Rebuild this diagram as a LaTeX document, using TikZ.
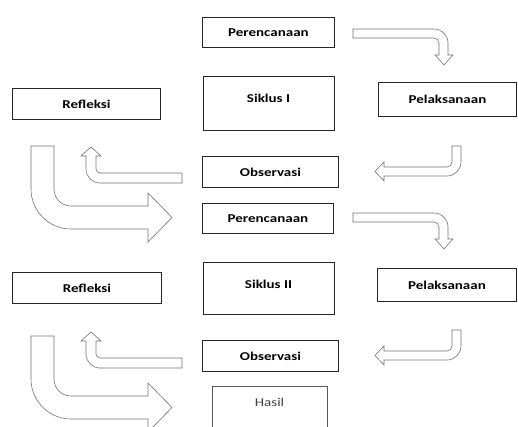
\documentclass[tikz,border=0pt]{standalone}
\usepackage{fontspec}
\setmainfont{Carlito}[FakeStretch=1.25]
\begin{document}
\begin{tikzpicture}[x=1pt,y=-1pt,
  box/.style={draw=black!85, line width=0.9pt, fill=white, anchor=north west,
    inner sep=0pt, font=\fontsize{12}{14}\selectfont\bfseries},
  lbl/.style={inner sep=0pt, font=\fontsize{12}{14}\selectfont\bfseries},
  hasillbl/.style={inner sep=0pt, text=black!75, font=\fontsize{12}{14}\selectfont},
  hasilbox/.style={draw=black!65, line width=0.8pt, fill=white, anchor=north west, inner sep=0pt},
  blockarrow/.style={draw=black!55, line width=0.6pt, fill=white, line join=miter}]
\useasboundingbox (0,0) rectangle (518,427);
\clip (0,0) rectangle (518,427);
\fill[white] (0,0) rectangle (518,427);

% ---- cycle I boxes ----
\node[box, minimum width=132, minimum height=30] (plan1) at (202,17) {Perencanaan};
\node[box, minimum width=131, minimum height=54] (siklus1) at (203,76) {};
\node[lbl] (siklus1t) at (268.5,98) {Siklus I};
\node[box, minimum width=148, minimum height=31] (refl1) at (12,88) {Refleksi};
\node[box, minimum width=138, minimum height=34] (pel1) at (378,82) {Pelaksanaan};
\node[box, minimum width=136, minimum height=31] (obs1) at (202,156) {Observasi};

% ---- cycle II boxes ----
\node[box, minimum width=131, minimum height=30] (plan2) at (202,203) {Perencanaan};
\node[box, minimum width=131, minimum height=52] (siklus2) at (203,262) {};
\node[lbl] (siklus2t) at (268.5,284) {Siklus II};
\node[box, minimum width=149, minimum height=31] (refl2) at (12,272) {Refleksi};
\node[box, minimum width=139, minimum height=33] (pel2) at (377,268) {Pelaksanaan};
\node[box, minimum width=136, minimum height=31] (obs2) at (202,340) {Observasi};

% ---- result ----
\node[hasilbox, minimum width=115, minimum height=60] (hasil) at (212,386) {};
\node[hasillbl] (hasilt) at (269.5,402) {Hasil};

% ---- block arrows, cycle I and II ----
\foreach \dy/\dyb/\dyc in {0/0/0, 184/185/190}{
  % Perencanaan -> Pelaksanaan
  \draw[blockarrow, shift={(0,\dy)}] (353,29) -- (434,29)
    arc[start angle=270, end angle=360, radius=14] -- (448,55) -- (453,55)
    -- (444,65) -- (435,55) -- (439,55) -- (439,43)
    arc[start angle=0, end angle=-90, radius=5] -- (353,38) -- cycle;
  % Pelaksanaan -> Observasi
  \draw[blockarrow, shift={(0,\dy)}] (452,146) -- (461,146) -- (461,162)
    arc[start angle=0, end angle=90, radius=14] -- (384,176) -- (384,181)
    -- (375,171.5) -- (384,162) -- (384,167) -- (447,167)
    arc[start angle=90, end angle=0, radius=5] -- cycle;
  % Observasi -> Refleksi
  \draw[blockarrow, shift={(0,\dyb)}] (182,173) -- (182,183) -- (100,183)
    arc[start angle=90, end angle=180, radius=14] -- (86,156) -- (81,156)
    -- (91,147) -- (101,156) -- (96,156) -- (96,169)
    arc[start angle=180, end angle=90, radius=4] -- cycle;
  % Refleksi -> next
  \draw[blockarrow, shift={(0,\dyc)}] (31,146) -- (54,146) -- (54,189)
    arc[start angle=180, end angle=90, radius=17] -- (148,206) -- (148,193)
    -- (172,217.5) -- (148,242) -- (148,229) -- (71,229)
    arc[start angle=90, end angle=180, radius=40] -- cycle;
}
\end{tikzpicture}
\end{document}
